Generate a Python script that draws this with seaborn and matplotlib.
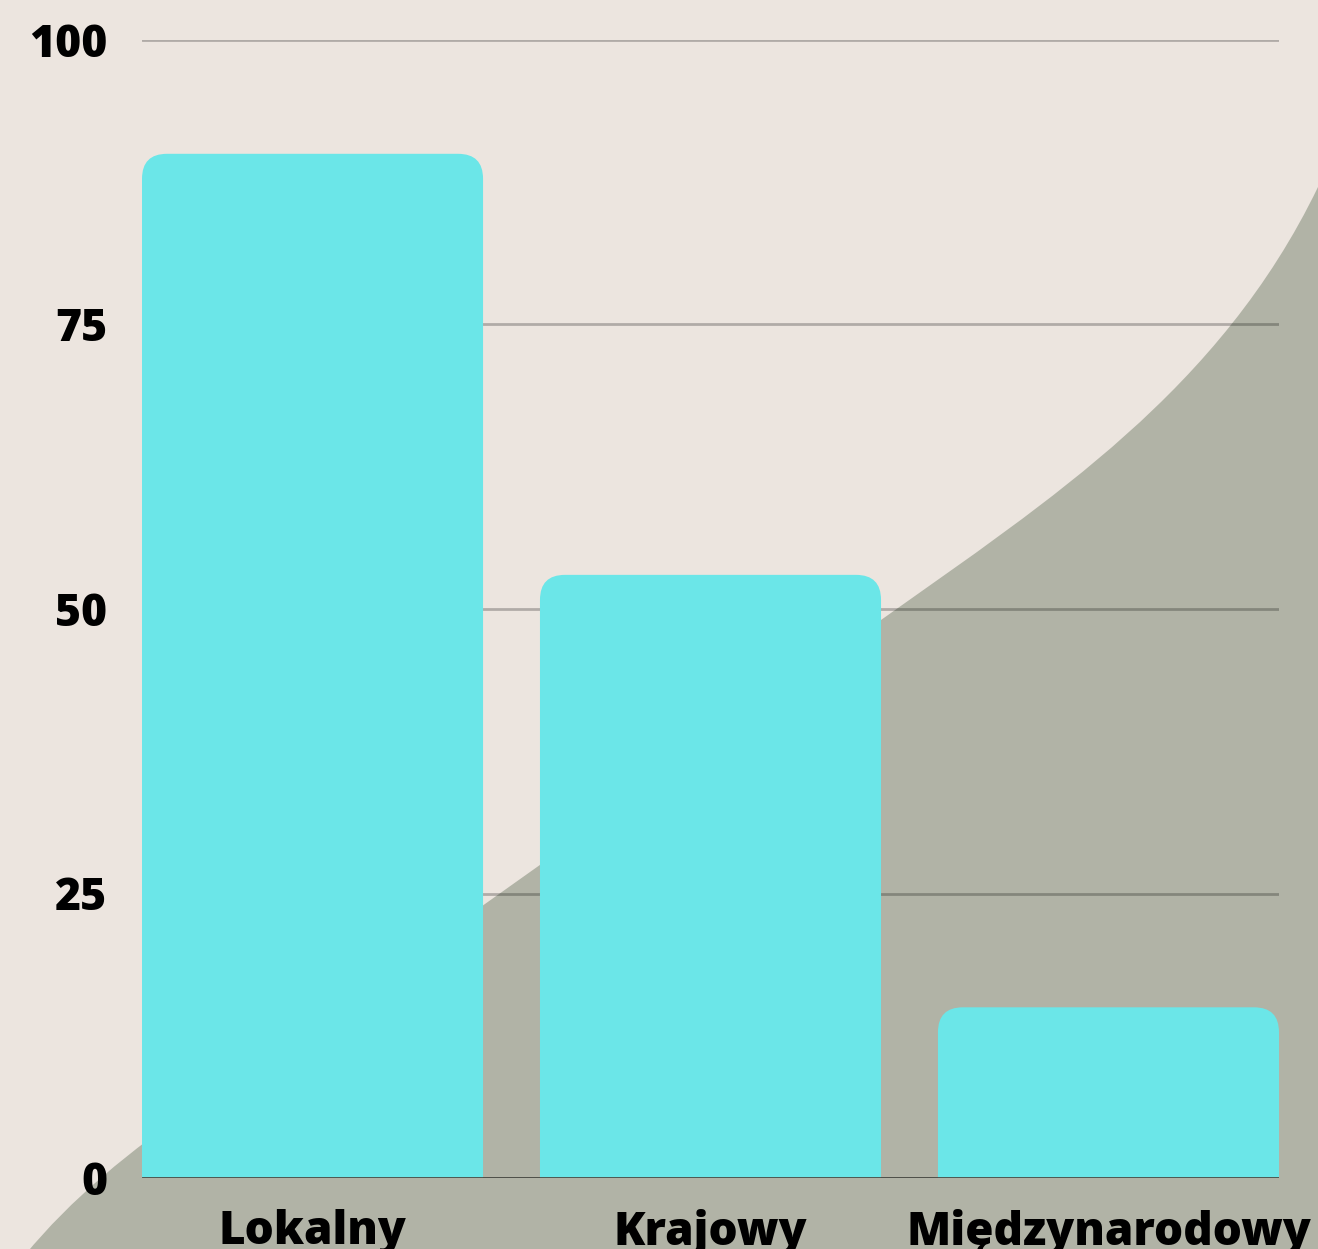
import matplotlib
matplotlib.use("Agg")
import matplotlib.pyplot as plt
import seaborn as sns
import pandas as pd
from matplotlib.patches import FancyBboxPatch, PathPatch
from matplotlib.path import Path

# chart data
categories = ["Lokalny", "Krajowy", "Międzynarodowy"]
values = [90, 53, 15]
y_ticks = [0, 25, 50, 75, 100]

BG = "#ECE5DF"
SHAPE = "#B1B3A6"
BAR = "#6BE6E8"

sns.set_theme(style="white")
plt.rcParams["font.family"] = ["Open Sans", "DejaVu Sans"]

W, H = 1318, 1249
fig = plt.figure(figsize=(W / 100, H / 100), dpi=100, facecolor=BG)

# decorative curved shape in the lower right (figure pixel coords)
verts = [(25, 1255),
         (70, 1200), (130, 1150), (200, 1103),
         (400, 966), (700, 752), (881, 620),
         (1050, 500), (1220, 390), (1318, 187),
         (1330, 160), (1330, 1260), (25, 1260), (25, 1255)]
codes = ([Path.MOVETO] + [Path.CURVE4] * 9 +
         [Path.LINETO] * 3 + [Path.CLOSEPOLY])
shape = Path([(x / W, 1 - y / H) for x, y in verts], codes)
fig.add_artist(PathPatch(shape, transform=fig.transFigure, facecolor=SHAPE,
                         edgecolor="none", zorder=-5))

ax = fig.add_axes([142 / W, 71 / H, (1279 - 142) / W, (1209 - 71) / H])
ax.set_facecolor("none")

df = pd.DataFrame({"cat": categories, "val": values})
sns.barplot(data=df, x="cat", y="val", color=BAR, width=0.857, ax=ax,
            saturation=1, zorder=3)

ax.set_xlim(-0.4285, 2.4285)
ax.set_ylim(0, 100)

# swap plain bars for ones with rounded tops
px_x = (1279 - 142) / 2.857
px_y = (1209 - 71) / 100
r = 25 / px_x
for p in list(ax.patches):
    x0, w, h = p.get_x(), p.get_width(), p.get_height()
    p.remove()
    fb = FancyBboxPatch((x0, -10), w, h + 10,
                        boxstyle=f"round,pad=0,rounding_size={r}",
                        mutation_aspect=px_x / px_y,
                        facecolor=BAR, edgecolor="none", zorder=3)
    ax.add_patch(fb)

ax.set_yticks(y_ticks)
ax.yaxis.grid(True, color="black", alpha=0.25, linewidth=2, zorder=1)
ax.set_axisbelow(True)
ax.axhline(0, color="#4a4a44", linewidth=2, zorder=4)
for s in ax.spines.values():
    s.set_visible(False)

ax.set_xlabel("")
ax.set_ylabel("")
ax.tick_params(axis="y", length=0, pad=25, labelsize=32)
ax.tick_params(axis="x", length=0, pad=22, labelsize=33)
for t in ax.get_yticklabels() + ax.get_xticklabels():
    t.set_fontweight("heavy")
    t.set_color("black")

fig.savefig("out.png", dpi=100, facecolor=BG)
